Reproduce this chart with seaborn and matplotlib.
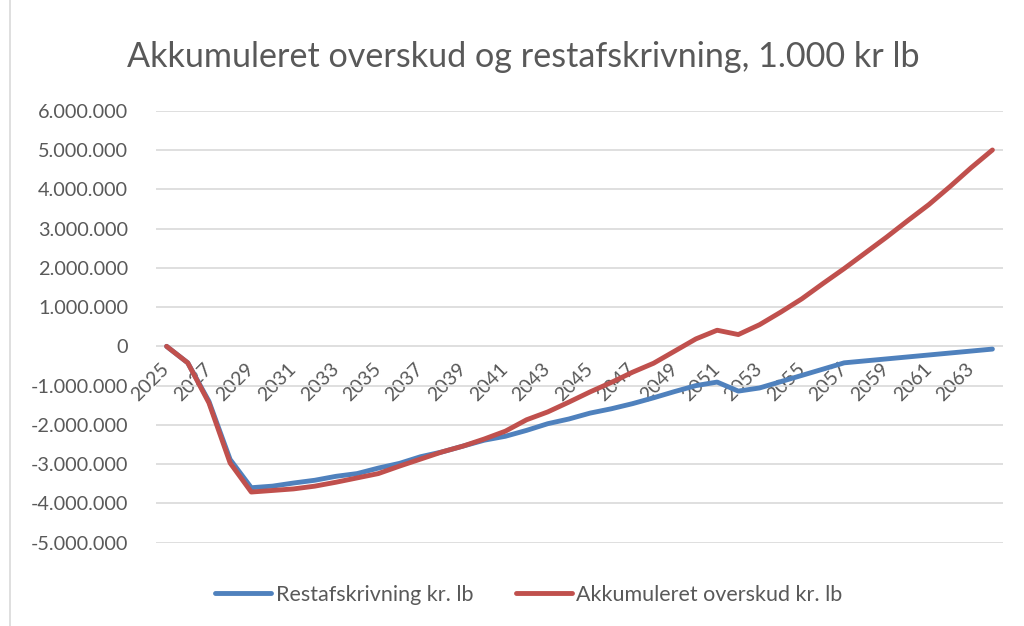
import pandas as pd
import matplotlib.pyplot as plt
import seaborn as sns
from matplotlib.lines import Line2D
from matplotlib.ticker import FuncFormatter

# Data (kr, 1.000 kr lb)
years = list(range(2025, 2065))
restafskrivning = [
    0, -420000, -1400000, -2880000, -3600000, -3560000, -3480000, -3410000,
    -3310000, -3240000, -3100000, -2980000, -2810000, -2690000, -2540000,
    -2390000, -2290000, -2140000, -1970000, -1850000, -1700000, -1590000,
    -1460000, -1310000, -1150000, -1000000, -910000, -1140000, -1060000,
    -900000, -740000, -580000, -420000, -370000, -320000, -270000, -220000,
    -170000, -120000, -70000,
]
akkumuleret = [
    0, -420000, -1440000, -2970000, -3710000, -3670000, -3630000, -3560000,
    -3460000, -3350000, -3240000, -3050000, -2870000, -2690000, -2540000,
    -2360000, -2160000, -1870000, -1670000, -1420000, -1160000, -920000,
    -660000, -430000, -120000, 190000, 410000, 300000, 550000, 870000,
    1210000, 1600000, 1980000, 2380000, 2780000, 3200000, 3610000, 4070000,
    4550000, 5000000,
]
series_names = ["Restafskrivning kr. lb", "Akkumuleret overskud kr. lb"]
colors = ["#4F81BD", "#C0504D"]
title = "Akkumuleret overskud og restafskrivning, 1.000 kr lb"

df = pd.DataFrame({
    "idx": list(range(len(years))) * 2,
    "value": restafskrivning + akkumuleret,
    "serie": [series_names[0]] * len(years) + [series_names[1]] * len(years),
})

sns.set_theme(style="white")
plt.rcParams["font.family"] = ["Lato", "DejaVu Sans"]
text_col = "#595959"

fig = plt.figure(figsize=(10.24, 6.26), dpi=100)
ax = fig.add_axes([156 / 1024, 1 - 542.7 / 626, (1003 - 156) / 1024, (542.7 - 110.7) / 626])

sns.lineplot(data=df, x="idx", y="value", hue="serie", palette=colors,
             linewidth=3.5, ax=ax, legend=False, sort=False)
for ln in ax.get_lines():
    ln.set_solid_capstyle("round")
    ln.set_solid_joinstyle("round")

ax.set_xlim(-0.5, len(years) - 0.5)
ax.set_ylim(-5000000, 6000000)
ax.set_yticks(range(-5000000, 6000001, 1000000))
ax.yaxis.set_major_formatter(FuncFormatter(lambda v, p: f"{int(v):,}".replace(",", ".")))
ax.grid(axis="y", color="#D9D9D9", linewidth=1.2)
ax.set_axisbelow(True)
for s in ax.spines.values():
    s.set_visible(False)
ax.spines["bottom"].set_position(("data", 0))

ax.set_xticks(range(0, len(years), 2))
ax.set_xticklabels([str(y) for y in years[::2]], rotation=45, ha="right",
                   va="center", rotation_mode="anchor")
ax.tick_params(axis="x", length=0, pad=14, labelsize=14, labelcolor=text_col)
ax.tick_params(axis="y", length=0, pad=20, labelsize=14.3, labelcolor=text_col)
ax.set_xlabel("")
ax.set_ylabel("")

fig.text(523 / 1024, 1 - 57 / 626, title, ha="center", va="center",
         fontsize=24.6, color=text_col)

handles = [Line2D([0], [0], color=c, linewidth=3.5, solid_capstyle="round") for c in colors]
fig.legend(handles, series_names, loc="center", bbox_to_anchor=(529 / 1024, 1 - 595 / 626),
           ncol=2, frameon=False, fontsize=15.5, handlelength=2.6, handletextpad=0.2,
           columnspacing=2.0, labelcolor=text_col)

fig.add_artist(Line2D([10 / 1024, 10 / 1024], [0, 1], color="#D9D9D9", linewidth=1.2))

fig.savefig("out.png", dpi=100)
